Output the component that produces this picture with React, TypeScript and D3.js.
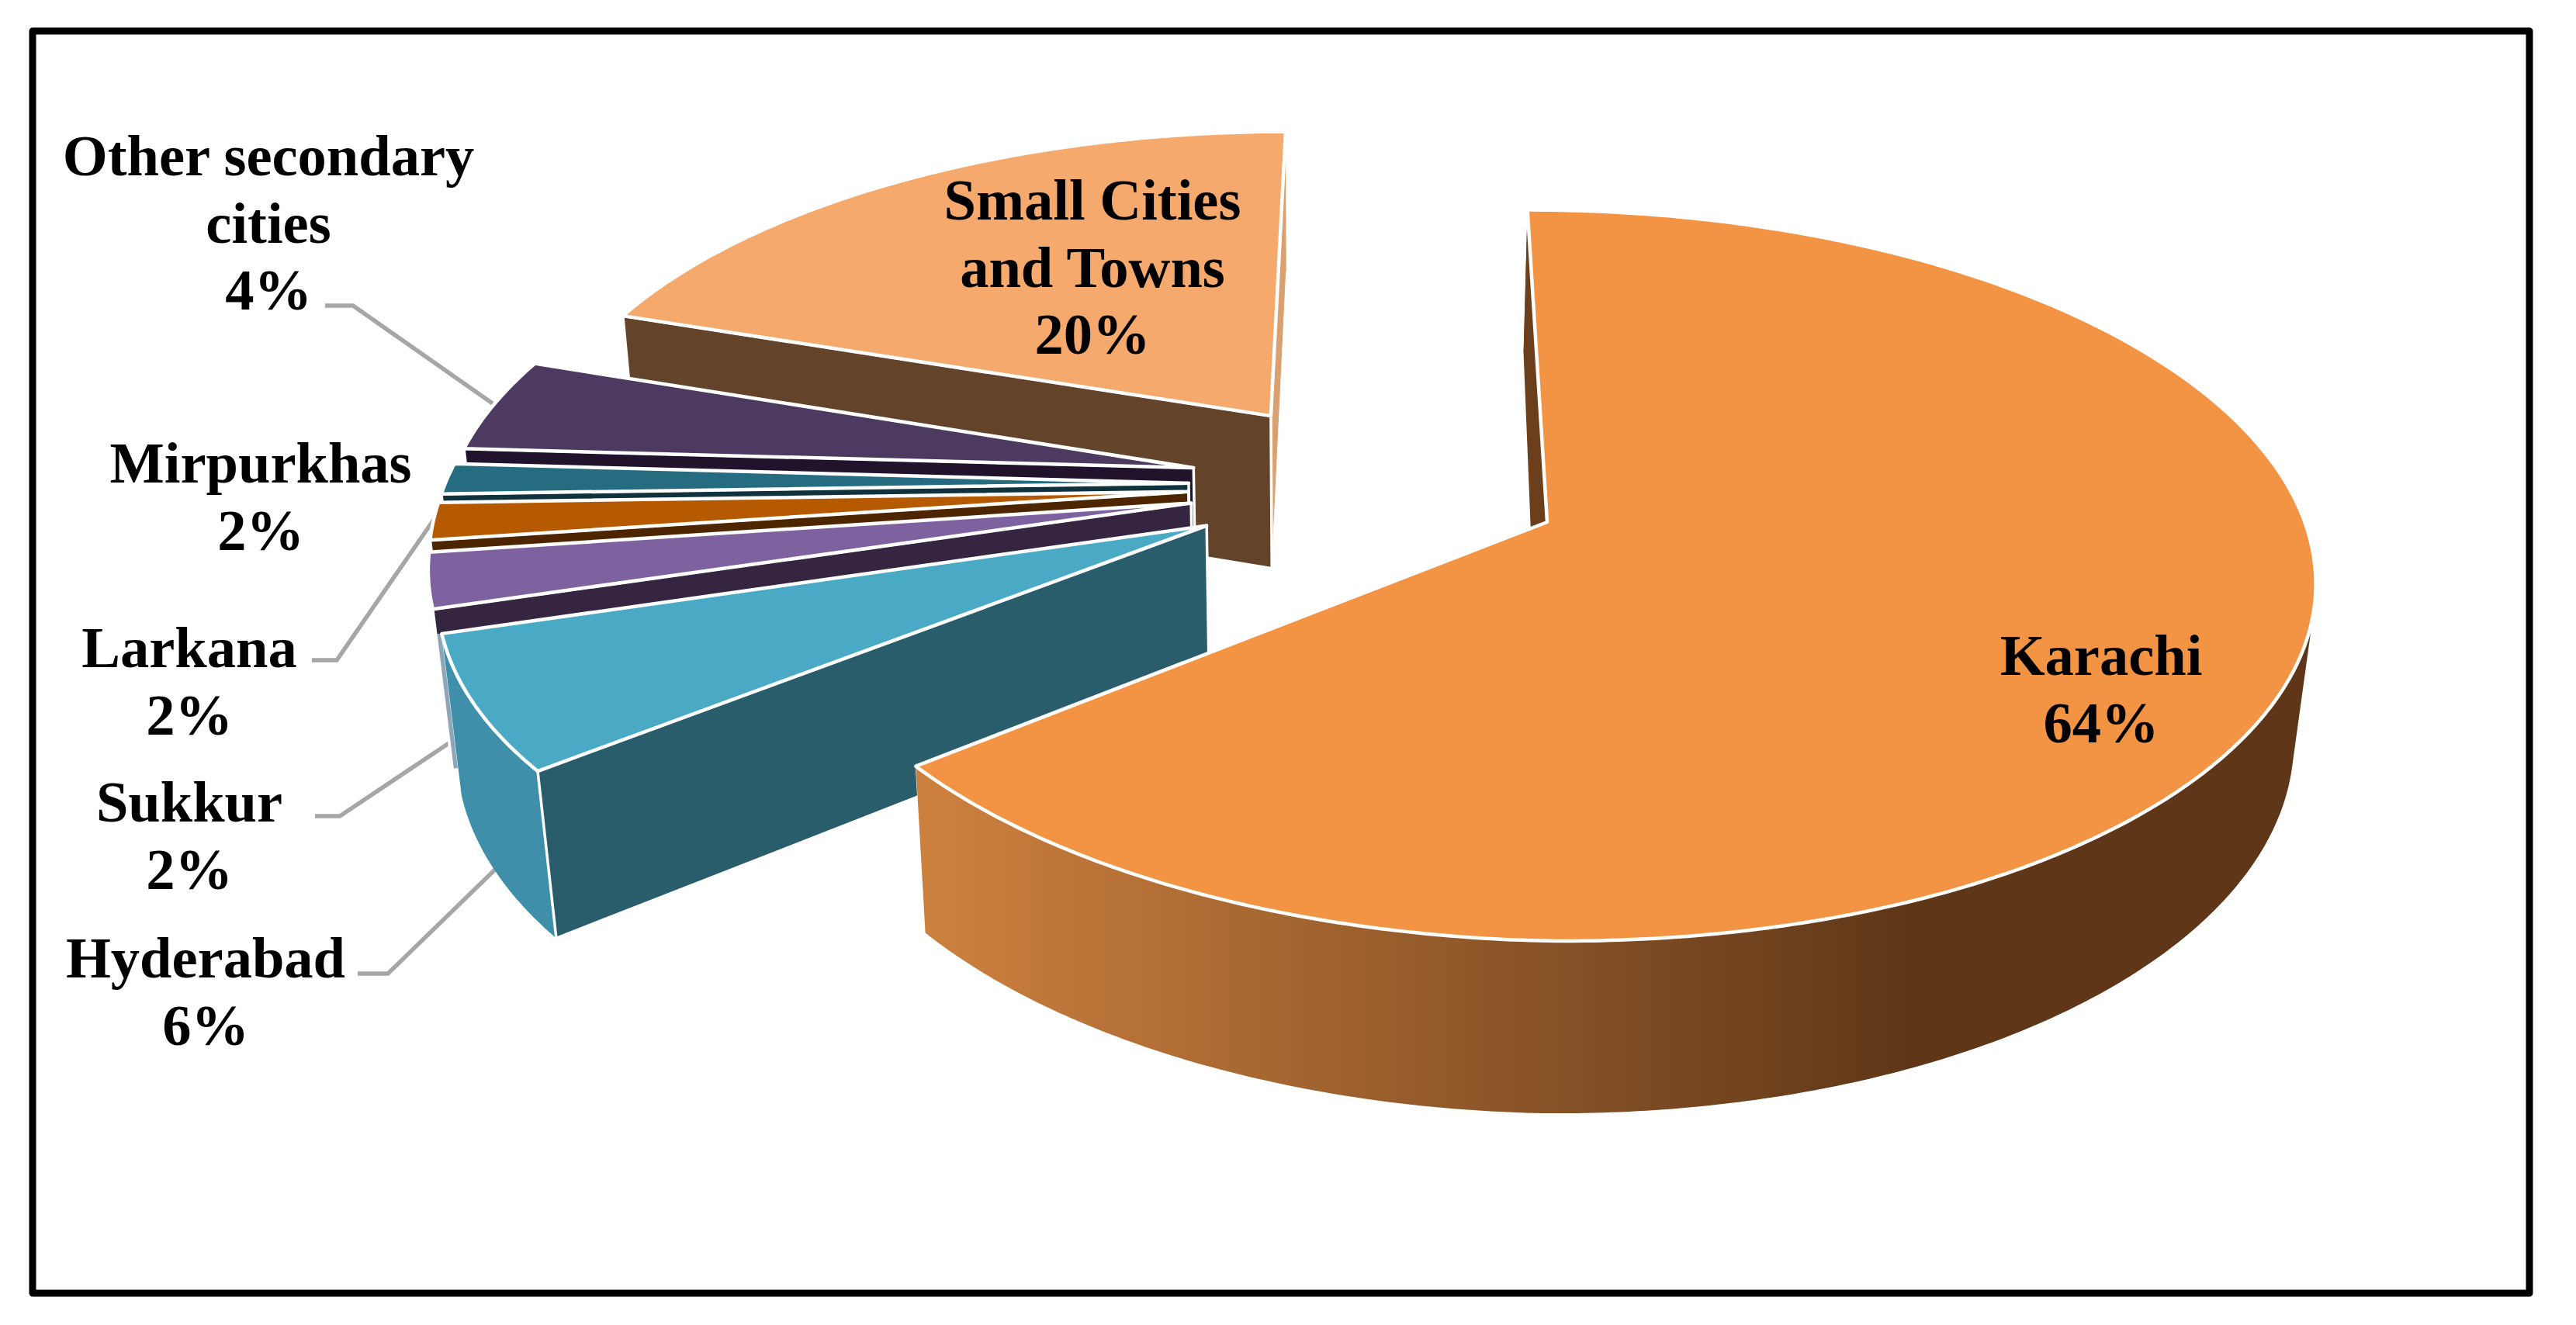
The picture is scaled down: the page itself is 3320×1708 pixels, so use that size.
import React from "react";
import * as d3 from "d3";

const WIDTH = 3320;
const HEIGHT = 1708;

// clockwise from Karachi, as drawn
const CITIES = ["Karachi", "Hyderabad", "Sukkur", "Larkana", "Mirpurkhas", "Other secondary cities", "Small Cities and Towns"];
const SHARES = [64.3, 6.1, 2.5, 1.7, 1.4, 4.3, 19.7];
const TOP_COLORS = ["#f29444", "#4aaac6", "#7e62a0", "#b55a00", "#256c80", "#4c3a60", "#f5a96c"];
const WALL_COLORS = ["#6b3f1c", "#2a5d6c", "url(#sukkurWall)", "#4d2600", "#10323d", "#21132c", "#63432a"];
const RIM_COLORS = ["url(#karachiRim)", "#3f8fab", "#8fa5b8", "#8a4a10", "#2a6a7d", "#3d2e50", "#d9a070"];
const LABEL_LINES = [
  ["Karachi", "64%"],
  ["Hyderabad", "6%"],
  ["Sukkur", "2%"],
  ["Larkana", "2%"],
  ["Mirpurkhas", "2%"],
  ["Other secondary", "cities", "4%"],
  ["Small Cities", "and Towns", "20%"],
];
const LABEL_X = [2708, 265, 244, 244, 336, 346, 1408];
const LABEL_Y = [870, 1260, 1059, 860, 622, 226, 283];
const LINE_STEP = 86.6;
const LEADERS = [
  [[419, 394], [455, 394], [639, 523]],
  [[402, 851], [434, 851], [561, 667]],
  [[406, 1052], [438, 1052], [586, 953]],
  [[461, 1255], [500, 1255], [641, 1118]],
];

// projection of the tilted pie, origin on Karachi's apex
const CX = 1994;
const CY = 673;
const SCALE_X = 980;
const SCALE_Y = 461;
const DEPTH_Y = 206.5;
const DEPTH_X = -6.47;
const SHEAR = 10.8;
const PERSP_V = 0.146;
const PERSP_Z = 0.022;
const EXPLODE = 0.25;
const SMALL_RADIUS = 0.987;
const LEFT_TRIM = 0.018;
const KARACHI_WALL_SHIFT = -7;
const START = (-1.7 * Math.PI) / 180;

type Pt = [number, number];

function project(u: number, v: number, z: number): Pt {
  const w = 1 - PERSP_V * v + PERSP_Z * z;
  return [CX + (SCALE_X * u + DEPTH_X * z) / w, CY + (SCALE_Y * v + SHEAR * u + DEPTH_Y * z) / w];
}

const pieLayout = d3.pie<number>().sort(null).startAngle(START).endAngle(START + 2 * Math.PI);
const arcs = pieLayout(SHARES);
const karachiMid = (arcs[0].startAngle + arcs[0].endAngle) / 2;
const centerU = -EXPLODE * Math.sin(karachiMid);
const centerV = EXPLODE * Math.cos(karachiMid);
const line = d3.line();
const closed = (pts: Pt[]) => line(pts) + "Z";

function buildSlice(a: d3.PieArcDatum<number>, i: number) {
  const mid = (a.startAngle + a.endAngle) / 2;
  const apexU = centerU + EXPLODE * Math.sin(mid);
  const apexV = centerV - EXPLODE * Math.cos(mid);
  const radius = (t: number) => {
    if (i > 0) return SMALL_RADIUS;
    return t > Math.PI ? 1 - LEFT_TRIM * Math.sin(t - Math.PI) : 1;
  };
  const angles = d3.range(a.startAngle, a.endAngle, 0.01).concat(a.endAngle);
  const rim = (z: number) =>
    angles.map((t) => project(apexU + radius(t) * Math.sin(t), apexV - radius(t) * Math.cos(t), z));
  const apex = (z: number) => project(apexU, apexV, z);
  const topRim = rim(0);
  const lowRim = rim(1);
  const lowApex = apex(1);
  const startApex: Pt = i === 0 ? [lowApex[0] + KARACHI_WALL_SHIFT, lowApex[1]] : lowApex;
  // rim as one quad per step, all wound the same way so the silhouette fills
  const rimPath = d3.range(topRim.length - 1)
    .map((k) => {
      const quad: Pt[] = [topRim[k], topRim[k + 1], lowRim[k + 1], lowRim[k]];
      return closed(d3.polygonArea(quad) < 0 ? quad.reverse() : quad);
    })
    .join("");
  return {
    top: closed([apex(0), ...topRim]),
    rim: rimPath,
    startWall: closed([apex(0), topRim[0], lowRim[0], startApex]),
    endWall: closed([apex(0), topRim[topRim.length - 1], lowRim[lowRim.length - 1], lowApex]),
  };
}

const slices = arcs.map(buildSlice);
// back to front
const DRAW_ORDER = [6, 5, 4, 3, 2, 1, 0];

export default function App() {
  return (
    <svg
      width={WIDTH}
      height={HEIGHT}
      viewBox={`0 0 ${WIDTH} ${HEIGHT}`}
      style={{ position: "absolute", left: 0, top: 0, background: "#fff" }}
    >
      <defs>
        <linearGradient id="karachiRim" gradientUnits="userSpaceOnUse" x1={1200} x2={2460} y1={0} y2={0}>
          <stop offset="0" stopColor="#cc803e" />
          <stop offset="1" stopColor="#5f3718" />
        </linearGradient>
        <linearGradient id="sukkurWall" gradientUnits="userSpaceOnUse" x1={0} x2={0} y1={700} y2={1000}>
          <stop offset="0.39" stopColor="#352541" />
          <stop offset="0.39" stopColor="#8fa5b8" />
        </linearGradient>
      </defs>
      <rect x={42} y={40} width={3218} height={1627} fill="#fff" stroke="#000" strokeWidth={9} strokeLinejoin="round" />
      {LEADERS.map((pts, i) => (
        <path key={i} d={line(pts as Pt[]) as string} fill="none" stroke="#a6a6a6" strokeWidth={5.5} />
      ))}
      {DRAW_ORDER.map((i) => (
        <g key={CITIES[i]} stroke="#fff" strokeLinejoin="round">
          <path d={slices[i].endWall} fill={RIM_COLORS[i]} strokeWidth={1} />
          <path d={slices[i].rim} fill={RIM_COLORS[i]} stroke="none" />
          <path d={slices[i].startWall} fill={WALL_COLORS[i]} strokeWidth={i === 0 ? 0 : 3.5} />
          <path d={slices[i].top} fill={TOP_COLORS[i]} strokeWidth={4.5} />
        </g>
      ))}
      {LABEL_LINES.map((lines, i) => (
        <text
          key={CITIES[i]}
          textAnchor="middle"
          fontFamily="'Liberation Serif', serif"
          fontWeight="bold"
          fontSize={74.5}
          fill="#000"
        >
          {lines.map((t, j) => (
            <tspan key={j} x={LABEL_X[i]} y={LABEL_Y[i] + j * LINE_STEP}>
              {t}
            </tspan>
          ))}
        </text>
      ))}
    </svg>
  );
}
